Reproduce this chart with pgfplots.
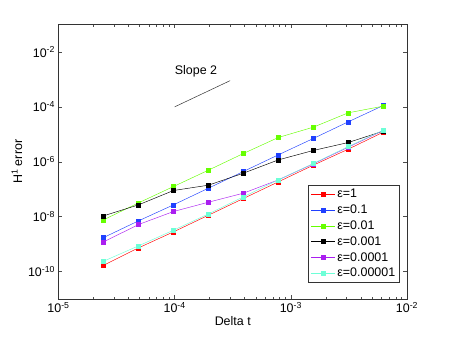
\documentclass[border=0pt]{standalone}
\usepackage{pgfplots}
\pgfplotsset{compat=1.18}
\usepackage{fontspec}
\setmainfont{Liberation Sans}
\definecolor{cred}{RGB}{255,0,0}
\definecolor{cblue}{RGB}{32,64,255}
\definecolor{cgreen}{RGB}{102,255,0}
\definecolor{cblack}{RGB}{0,0,0}
\definecolor{cpurple}{RGB}{170,30,240}
\definecolor{ccyan}{RGB}{110,255,215}
\begin{document}
\begin{tikzpicture}[x=1bp,y=1bp]
\path[use as bounding box] (0,0) rectangle (450,337);
\begin{axis}[
  at={(58.5bp,38bp)}, anchor=south west,
  scale only axis, width=348.5bp, height=274.5bp,
  xmode=log, ymode=log,
  xmin=1e-5, xmax=1e-2, ymin=1e-11, ymax=1e-1,
  xtick={1e-5,1e-4,1e-3,1e-2},
  xticklabels={10\textsuperscript{-5},10\textsuperscript{-4},10\textsuperscript{-3},10\textsuperscript{-2}},
  ytick={1e-10,1e-8,1e-6,1e-4,1e-2},
  yticklabels={10\textsuperscript{-10},10\textsuperscript{-8},10\textsuperscript{-6},10\textsuperscript{-4},10\textsuperscript{-2}},
  yminorticks=false,
  tick align=inside,
  major tick length=4bp, minor tick length=2bp,
  every tick/.style={black!70, line width=0.4pt},
  axis line style={black!80, line width=0.6pt},
  tick label style={font=\fontsize{12.5}{14}\selectfont},
  label style={font=\fontsize{12.5}{14}\selectfont},
  xlabel={Delta t}, ylabel={H\textsuperscript{1} error},
  xlabel style={yshift=3bp},
  ylabel style={yshift=-1bp},
  legend style={at={(0.98,0.058)}, anchor=south east, font=\fontsize{12.5}{14}\selectfont,
    draw=black!80, line width=0.6pt, inner xsep=2.5pt, inner ysep=2.5pt, row sep=1.6pt},
  legend cell align=left,
  legend image code/.code={\draw[#1, mark repeat=2, mark phase=2] plot coordinates {(0bp,0bp) (12bp,0bp) (24bp,0bp)};},
  every axis plot/.append style={line width=0.45pt, mark=square*, mark size=2bp},
]
\addplot[cred, mark options={fill=cred}] coordinates {
(2.4414e-5,1.70e-10) (4.8828e-5,7.30e-10) (9.7656e-5,2.79e-9) (1.9531e-4,1.13e-8) (3.9063e-4,4.58e-8) (7.8125e-4,1.86e-7) (1.5625e-3,7.52e-7) (3.125e-3,2.88e-6) (6.25e-3,1.20e-5)};
\addlegendentry{ε=1}
\addplot[cblue, mark options={fill=cblue}] coordinates {
(2.4414e-5,1.73e-9) (4.8828e-5,7.03e-9) (9.7656e-5,2.69e-8) (1.9531e-4,1.09e-7) (3.9063e-4,4.42e-7) (7.8125e-4,1.79e-6) (1.5625e-3,7.05e-6) (3.125e-3,2.86e-5) (6.25e-3,1.12e-4)};
\addlegendentry{ε=0.1}
\addplot[cgreen, mark options={fill=cgreen}] coordinates {
(2.4414e-5,7.64e-9) (4.8828e-5,3.18e-8) (9.7656e-5,1.25e-7) (1.9531e-4,4.94e-7) (3.9063e-4,2.00e-6) (7.8125e-4,7.67e-6) (1.5625e-3,1.82e-5) (3.125e-3,6.08e-5) (6.25e-3,1.06e-4)};
\addlegendentry{ε=0.01}
\addplot[cblack, mark options={fill=cblack}] coordinates {
(2.4414e-5,1.07e-8) (4.8828e-5,2.69e-8) (9.7656e-5,8.97e-8) (1.9531e-4,1.40e-7) (3.9063e-4,3.84e-7) (7.8125e-4,1.17e-6) (1.5625e-3,2.58e-6) (3.125e-3,5.03e-6) (6.25e-3,1.31e-5)};
\addlegendentry{ε=0.001}
\addplot[cpurple, mark options={fill=cpurple}] coordinates {
(2.4414e-5,1.20e-9) (4.8828e-5,5.16e-9) (9.7656e-5,1.54e-8) (1.9531e-4,3.36e-8) (3.9063e-4,7.16e-8) (7.8125e-4,2.19e-7) (1.5625e-3,8.41e-7) (3.125e-3,3.40e-6) (6.25e-3,1.38e-5)};
\addlegendentry{ε=0.0001}
\addplot[ccyan, mark options={fill=ccyan}] coordinates {
(2.4414e-5,2.38e-10) (4.8828e-5,8.63e-10) (9.7656e-5,3.21e-9) (1.9531e-4,1.26e-8) (3.9063e-4,5.27e-8) (7.8125e-4,2.19e-7) (1.5625e-3,8.65e-7) (3.125e-3,3.60e-6) (6.25e-3,1.42e-5)};
\addlegendentry{ε=0.00001}
\addplot[black!80, line width=0.5pt, mark=none, forget plot] coordinates {(1e-4,1e-4) (3e-4,9e-4)};
\node[anchor=west, font=\fontsize{12.5}{14}\selectfont, inner sep=0pt] at (axis cs:1e-4,2.0e-3) {Slope 2};
\end{axis}
\end{tikzpicture}
\end{document}
